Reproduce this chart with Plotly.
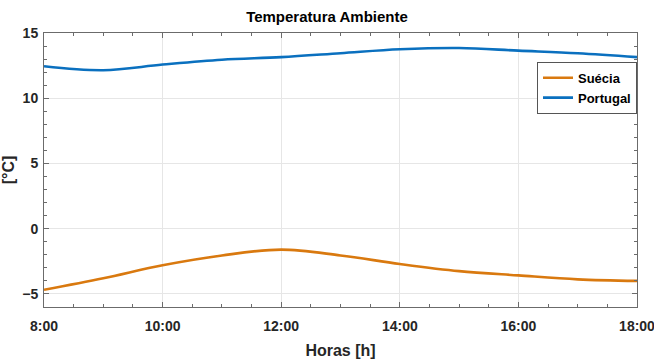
import plotly.graph_objects as go

hours = [8, 9, 10, 11, 12, 13, 14, 15, 16, 17, 18]
suecia = [-4.68, -3.8, -2.8, -2.05, -1.6, -2.05, -2.7, -3.25, -3.58, -3.88, -4.0]
portugal = [12.45, 12.15, 12.58, 12.95, 13.15, 13.45, 13.75, 13.85, 13.65, 13.45, 13.15]
xtick_vals = [8, 10, 12, 14, 16, 18]
xtick_text = ["8:00", "10:00", "12:00", "14:00", "16:00", "18:00"]
ytick_vals = [-5, 0, 5, 10, 15]

FONT = "Liberation Sans Narrow, Arial Narrow, Liberation Sans, Arial, sans-serif"

fig = go.Figure()
fig.add_trace(go.Scatter(x=hours, y=suecia, mode="lines", name="Suécia",
                         line=dict(color="#D9790F", width=2.6, shape="spline", smoothing=1.0)))
fig.add_trace(go.Scatter(x=hours, y=portugal, mode="lines", name="Portugal",
                         line=dict(color="#0A70BF", width=2.6, shape="spline", smoothing=1.0)))

axis_common = dict(
    showline=True, linecolor="#6b6b6b", linewidth=1, mirror="ticks",
    ticks="inside", ticklen=5, tickcolor="#6b6b6b",
    showgrid=True, gridcolor="#e6e6e6", gridwidth=1,
    zeroline=False, ticklabeloverflow="allow", automargin=False,
    tickfont=dict(family=FONT, size=14, color="#262626", weight="bold"),
)

fig.update_layout(
    width=654, height=364,
    margin=dict(l=44, r=17, t=33, b=57),
    paper_bgcolor="white", plot_bgcolor="white",
    title=dict(text="Temperatura Ambiente", x=0.5, xanchor="center", y=0.955, yanchor="middle",
               font=dict(family=FONT, size=15, color="black", weight="bold")),
    showlegend=True,
    legend=dict(x=1.0, y=0.895, xanchor="right", yanchor="top",
                bordercolor="#555", borderwidth=1, bgcolor="white",
                font=dict(family=FONT, size=13, color="black", weight="bold"),
                tracegroupgap=0, itemwidth=30),
    xaxis=dict(range=[8, 18], tickvals=xtick_vals, ticktext=xtick_text, ticklabelstandoff=6,
               title=dict(text="Horas [h]", font=dict(family=FONT, size=16, color="#262626", weight="bold"), standoff=12),
               minor=dict(dtick=0.5, tick0=8, ticks="inside", ticklen=3, tickcolor="#6b6b6b", showgrid=False),
               **axis_common),
    yaxis=dict(range=[-6, 15], tickvals=ytick_vals, ticklabelstandoff=2,
               title=dict(text="[°C]", font=dict(family=FONT, size=16, color="#262626", weight="bold"), standoff=8),
               minor=dict(dtick=1, tick0=0, ticks="inside", ticklen=3, tickcolor="#6b6b6b", showgrid=False),
               **axis_common),
)

fig.write_html("out.html")
